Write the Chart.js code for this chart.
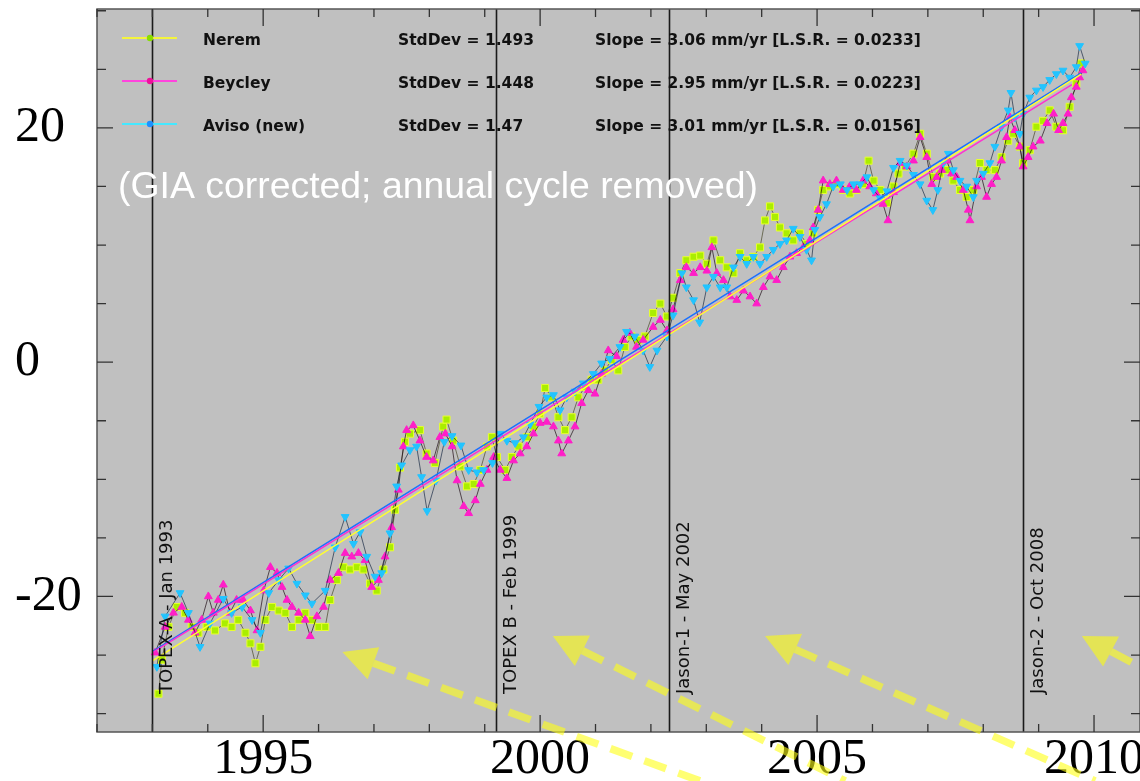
<!DOCTYPE html>
<html>
<head>
<meta charset="utf-8">
<script src="https://cdn.jsdelivr.net/npm/chart.js@4.4.1/dist/chart.umd.min.js"></script>
<style>
  html, body { margin: 0; padding: 0; background: #fff; }
  #wrap { width: 1140px; height: 781px; overflow: hidden; }
</style>
</head>
<body>
<div id="wrap"><canvas id="sea-level" width="1140" height="781"></canvas></div>
<script>
// global mean sea level (mm), GIA corrected, annual cycle removed
const neremYears = [1993.11, 1993.17, 1993.29, 1993.44, 1993.59, 1993.71, 1993.83, 1993.98, 1994.13, 1994.31, 1994.43, 1994.55, 1994.68, 1994.77, 1994.86, 1994.95, 1995.04, 1995.16, 1995.28, 1995.40, 1995.52, 1995.64, 1995.76, 1995.88, 1996.00, 1996.12, 1996.21, 1996.33, 1996.45, 1996.57, 1996.69, 1996.81, 1996.93, 1997.05, 1997.17, 1997.29, 1997.38, 1997.47, 1997.56, 1997.65, 1997.83, 1997.95, 1998.10, 1998.25, 1998.31, 1998.43, 1998.56, 1998.68, 1998.80, 1998.92, 1999.04, 1999.13, 1999.22, 1999.37, 1999.49, 1999.61, 1999.76, 1999.88, 2000.00, 2000.09, 2000.21, 2000.33, 2000.45, 2000.57, 2000.69, 2000.81, 2000.93, 2001.05, 2001.17, 2001.29, 2001.41, 2001.53, 2001.65, 2001.77, 2001.89, 2002.04, 2002.17, 2002.29, 2002.40, 2002.53, 2002.64, 2002.77, 2002.89, 2003.01, 2003.13, 2003.25, 2003.37, 2003.49, 2003.61, 2003.73, 2003.85, 2003.97, 2004.06, 2004.15, 2004.24, 2004.33, 2004.45, 2004.57, 2004.69, 2004.81, 2004.93, 2005.02, 2005.11, 2005.23, 2005.35, 2005.47, 2005.59, 2005.71, 2005.83, 2005.93, 2006.02, 2006.14, 2006.26, 2006.38, 2006.47, 2006.59, 2006.74, 2006.86, 2006.98, 2007.10, 2007.22, 2007.34, 2007.46, 2007.58, 2007.70, 2007.82, 2007.94, 2008.06, 2008.21, 2008.33, 2008.45, 2008.54, 2008.66, 2008.72, 2008.84, 2008.96, 2009.08, 2009.20, 2009.32, 2009.44, 2009.56, 2009.68, 2009.77];
const neremMm = [-28.3, -25.4, -22.6, -20.9, -21.4, -22.6, -23.1, -22.6, -22.9, -22.3, -22.6, -22.0, -23.1, -24.0, -25.7, -24.3, -22.0, -20.9, -21.2, -21.4, -22.6, -22.0, -21.4, -22.0, -22.6, -22.6, -20.3, -18.6, -17.5, -17.7, -17.5, -17.7, -18.9, -19.5, -17.7, -15.8, -12.6, -9.0, -6.8, -6.1, -5.8, -7.8, -8.6, -5.5, -4.9, -6.7, -8.9, -10.6, -10.4, -9.2, -7.2, -6.4, -8.1, -9.2, -8.1, -7.2, -6.4, -5.5, -4.4, -2.2, -3.0, -4.7, -5.8, -4.7, -3.0, -2.1, -1.5, -1.5, -0.7, 0.2, -0.7, 1.3, 2.2, 1.9, 2.2, 4.2, 5.0, 3.9, 5.5, 7.6, 8.7, 9.0, 9.1, 8.4, 10.4, 8.7, 8.1, 7.6, 9.3, 8.7, 9.0, 9.8, 12.1, 13.3, 12.4, 11.5, 11.0, 10.4, 11.0, 10.1, 11.0, 13.0, 14.7, 15.0, 15.2, 14.7, 14.4, 14.7, 15.2, 17.2, 15.5, 14.7, 13.6, 15.0, 16.1, 16.7, 17.8, 19.5, 17.8, 15.8, 16.1, 16.4, 15.5, 14.7, 14.1, 14.7, 17.0, 16.4, 16.4, 17.5, 18.9, 19.5, 18.4, 17.0, 18.1, 20.1, 20.6, 21.5, 20.1, 19.8, 21.8, 23.8, 25.5];

const beycleyYears = [1993.05, 1993.23, 1993.38, 1993.53, 1993.65, 1993.77, 1993.89, 1994.01, 1994.10, 1994.19, 1994.28, 1994.40, 1994.52, 1994.64, 1994.77, 1994.89, 1995.01, 1995.13, 1995.25, 1995.34, 1995.43, 1995.52, 1995.64, 1995.76, 1995.85, 1995.97, 1996.09, 1996.21, 1996.36, 1996.48, 1996.60, 1996.72, 1996.84, 1996.96, 1997.08, 1997.20, 1997.32, 1997.44, 1997.53, 1997.59, 1997.71, 1997.83, 1997.95, 1998.07, 1998.19, 1998.29, 1998.41, 1998.50, 1998.62, 1998.71, 1998.83, 1998.92, 1999.04, 1999.16, 1999.28, 1999.40, 1999.52, 1999.64, 1999.76, 1999.88, 2000.00, 2000.12, 2000.24, 2000.33, 2000.39, 2000.51, 2000.63, 2000.75, 2000.87, 2000.99, 2001.11, 2001.23, 2001.38, 2001.50, 2001.62, 2001.74, 2001.86, 2002.04, 2002.17, 2002.29, 2002.40, 2002.53, 2002.64, 2002.77, 2002.89, 2003.01, 2003.10, 2003.19, 2003.31, 2003.43, 2003.55, 2003.67, 2003.79, 2003.91, 2004.03, 2004.15, 2004.27, 2004.39, 2004.51, 2004.63, 2004.75, 2004.87, 2004.93, 2005.02, 2005.11, 2005.23, 2005.35, 2005.47, 2005.59, 2005.71, 2005.83, 2005.95, 2006.07, 2006.19, 2006.28, 2006.38, 2006.50, 2006.62, 2006.74, 2006.86, 2006.98, 2007.07, 2007.16, 2007.25, 2007.34, 2007.43, 2007.52, 2007.64, 2007.73, 2007.76, 2007.88, 2007.97, 2008.06, 2008.15, 2008.24, 2008.33, 2008.42, 2008.48, 2008.57, 2008.66, 2008.72, 2008.81, 2008.90, 2009.03, 2009.15, 2009.27, 2009.36, 2009.44, 2009.53, 2009.59, 2009.68, 2009.74, 2009.80];
const beycleyMm = [-24.8, -22.6, -21.4, -20.9, -22.0, -23.1, -22.0, -20.0, -21.4, -20.3, -19.0, -21.4, -20.3, -20.3, -21.2, -22.9, -19.5, -17.5, -18.0, -19.2, -20.3, -20.9, -21.4, -22.0, -23.4, -21.7, -20.9, -18.6, -18.0, -16.3, -16.6, -16.3, -16.9, -19.2, -18.6, -16.6, -14.1, -10.9, -7.2, -5.8, -5.4, -6.7, -8.1, -8.4, -6.4, -6.1, -7.2, -10.1, -12.3, -12.9, -11.8, -10.4, -9.2, -8.1, -9.2, -9.9, -8.4, -7.8, -7.2, -6.1, -5.2, -5.1, -5.5, -6.7, -7.8, -6.7, -5.5, -3.5, -2.4, -2.7, -1.0, 1.0, 0.5, 1.9, 2.5, 1.3, 1.9, 3.0, 3.6, 2.7, 4.5, 7.0, 8.1, 7.6, 8.1, 7.8, 9.8, 7.6, 7.0, 5.6, 5.3, 6.1, 5.6, 5.0, 6.4, 7.3, 7.0, 8.1, 9.0, 9.3, 9.8, 10.4, 11.5, 13.0, 15.5, 15.2, 15.5, 14.7, 15.0, 14.7, 15.5, 15.0, 14.4, 13.5, 12.1, 14.5, 17.0, 16.7, 17.2, 19.2, 17.5, 15.2, 15.8, 16.4, 17.2, 16.1, 15.8, 14.7, 13.0, 12.1, 15.0, 15.8, 14.1, 15.2, 15.8, 17.2, 19.2, 20.9, 19.8, 18.4, 16.7, 17.5, 18.4, 18.9, 20.4, 21.2, 19.8, 20.4, 21.2, 22.6, 23.5, 24.3, 24.9];

const avisoYears = [1993.08, 1993.23, 1993.50, 1993.65, 1993.86, 1994.04, 1994.28, 1994.43, 1994.62, 1994.80, 1994.95, 1995.10, 1995.28, 1995.46, 1995.61, 1995.76, 1995.88, 1996.12, 1996.30, 1996.48, 1996.63, 1996.75, 1996.87, 1997.02, 1997.14, 1997.29, 1997.41, 1997.50, 1997.65, 1997.77, 1997.86, 1997.96, 1998.12, 1998.27, 1998.41, 1998.57, 1998.71, 1998.86, 1998.98, 1999.14, 1999.28, 1999.40, 1999.55, 1999.70, 1999.82, 1999.98, 2000.12, 2000.24, 2000.36, 2000.48, 2000.63, 2000.78, 2000.96, 2001.11, 2001.26, 2001.44, 2001.56, 2001.71, 2001.86, 2001.98, 2002.11, 2002.29, 2002.40, 2002.56, 2002.64, 2002.77, 2002.88, 2003.01, 2003.13, 2003.25, 2003.37, 2003.49, 2003.61, 2003.73, 2003.85, 2003.97, 2004.09, 2004.21, 2004.33, 2004.45, 2004.57, 2004.69, 2004.81, 2004.90, 2004.96, 2005.05, 2005.17, 2005.29, 2005.42, 2005.54, 2005.66, 2005.78, 2005.90, 2006.02, 2006.14, 2006.26, 2006.38, 2006.50, 2006.62, 2006.74, 2006.86, 2006.98, 2007.09, 2007.18, 2007.28, 2007.37, 2007.46, 2007.58, 2007.70, 2007.82, 2007.88, 2008.00, 2008.12, 2008.21, 2008.33, 2008.45, 2008.50, 2008.57, 2008.66, 2008.72, 2008.84, 2008.96, 2009.08, 2009.20, 2009.32, 2009.44, 2009.56, 2009.68, 2009.74, 2009.84];
const avisoMm = [-26.0, -21.7, -19.7, -21.4, -24.3, -22.3, -20.2, -21.4, -20.9, -22.0, -23.1, -19.7, -18.6, -17.6, -18.9, -19.9, -20.6, -19.5, -15.8, -13.2, -15.5, -14.5, -16.6, -18.3, -18.0, -14.6, -10.6, -8.8, -7.5, -7.2, -9.8, -12.7, -10.1, -6.8, -6.3, -7.1, -9.2, -9.4, -9.2, -8.6, -6.1, -6.7, -6.9, -6.4, -5.3, -3.8, -3.0, -2.8, -4.1, -3.0, -2.5, -1.8, -1.0, -0.1, 0.3, 1.3, 2.6, 2.2, 1.0, -0.4, 1.0, 2.2, 4.0, 7.6, 6.4, 5.3, 3.4, 6.4, 7.3, 6.4, 6.4, 8.1, 9.0, 8.4, 9.0, 8.4, 9.0, 9.6, 10.1, 10.4, 11.4, 10.7, 9.6, 8.7, 11.3, 12.4, 13.5, 15.0, 15.2, 14.7, 15.2, 15.2, 15.8, 14.7, 14.0, 14.6, 16.6, 17.2, 16.8, 16.0, 15.2, 13.8, 13.0, 14.7, 17.0, 17.8, 16.4, 15.5, 15.0, 14.1, 15.5, 16.1, 17.0, 18.4, 20.1, 21.5, 23.0, 20.9, 19.5, 21.2, 22.6, 23.2, 23.5, 24.1, 24.6, 24.9, 24.3, 25.2, 27.0, 25.5];

// linear fits [year, mm] at start and end
const neremTrend = [[1993.0, -25.5], [2009.77, 24.6]];
const beycleyTrend = [[1993.0, -24.8], [2009.6, 23.7]];
const avisoTrend = [[1993.0, -24.7], [2009.77, 24.7]];

const seriesNames = ["Nerem", "Beycley", "Aviso (new)"];
const stdDevs = ["1.493", "1.448", "1.47"];
const slopes = ["3.06", "2.95", "3.01"];
const lsrValues = ["0.0233", "0.0223", "0.0156"];

const missionYears = [1993.0, 1999.2, 2002.33, 2008.71];
const missionLabels = ["TOPEX-A - Jan 1993", "TOPEX B - Feb 1999", "Jason-1 - May 2002", "Jason-2 - Oct 2008"];

const xTickLabels = [1995, 2000, 2005, 2010];
const yTickLabels = [-20, 0, 20];

// yellow arrows: [tipYear, tipMm, tailYear, tailMm]
const arrows = [
  [1996.43, -24.74, 2002.89, -35.75],
  [2000.23, -23.38, 2005.51, -35.75],
  [2004.06, -23.38, 2010.02, -35.75],
  [2009.78, -23.38, 2011.19, -26.9]
];

const toPoints = (xs, ys) => xs.map((x, i) => ({ x: x, y: ys[i] }));
const toLine = (t) => t.map((p) => ({ x: p[0], y: p[1] }));

const serif = '"Liberation Serif", "Times New Roman", serif';
const sans = '"DejaVu Sans", sans-serif';

const colNerem = "#aaee00";
const colBeycley = "#ff1ec8";
const colAviso = "#22c4ff";

const decorations = {
  id: "decorations",
  beforeDraw(chart) {
    const { ctx, chartArea: a } = chart;
    ctx.save();
    ctx.fillStyle = "#c0c0c0";
    ctx.fillRect(a.left, a.top, a.right - a.left, a.bottom - a.top);
    ctx.restore();
  },
  afterDatasetsDraw(chart) {
    const { ctx, chartArea: a } = chart;
    const xs = chart.scales.x;
    const ys = chart.scales.y;
    ctx.save();

    // mission lines and their labels
    missionYears.forEach((yr, i) => {
      const x = Math.round(xs.getPixelForValue(yr)) + 0.5;
      ctx.strokeStyle = "#1a1a1a";
      ctx.lineWidth = 1.6;
      ctx.beginPath();
      ctx.moveTo(x, a.top);
      ctx.lineTo(x, a.bottom);
      ctx.stroke();
      ctx.save();
      ctx.translate(x + 19, 694);
      ctx.rotate(-Math.PI / 2);
      ctx.fillStyle = "#111";
      ctx.font = "18px " + sans;
      ctx.textAlign = "left";
      ctx.textBaseline = "alphabetic";
      ctx.fillText(missionLabels[i], 0, 0);
      ctx.restore();
    });

    // frame
    ctx.strokeStyle = "#555";
    ctx.lineWidth = 1.5;
    ctx.strokeRect(a.left, a.top, a.right - a.left, a.bottom - a.top);

    // inward ticks
    ctx.strokeStyle = "#333";
    ctx.lineWidth = 1.3;
    for (let yr = 1992; yr <= 2010; yr++) {
      const x = xs.getPixelForValue(yr);
      const len = yr % 5 === 0 ? 17 : 8;
      ctx.beginPath();
      ctx.moveTo(x, a.bottom);
      ctx.lineTo(x, a.bottom - len);
      ctx.moveTo(x, a.top);
      ctx.lineTo(x, a.top + len);
      ctx.stroke();
    }
    for (let mm = -30; mm <= 30; mm += 5) {
      const y = ys.getPixelForValue(mm);
      const len = mm % 20 === 0 ? 16 : 9;
      ctx.beginPath();
      ctx.moveTo(a.left, y);
      ctx.lineTo(a.left + len, y);
      ctx.moveTo(a.right, y);
      ctx.lineTo(a.right - len, y);
      ctx.stroke();
    }
    ctx.restore();
  },
  afterDraw(chart) {
    const { ctx } = chart;
    const xs = chart.scales.x;
    const ys = chart.scales.y;
    ctx.save();

    // legend block
    const rowBase = [45, 88, 131];
    const lineCols = ["#f4f43c", "#ff44dd", "#44e8ff"];
    const dotCols = ["#88dd00", "#ee1199", "#1e90ff"];
    rowBase.forEach((b, i) => {
      const ly = b - 7;
      ctx.strokeStyle = lineCols[i];
      ctx.lineWidth = 2;
      ctx.beginPath();
      ctx.moveTo(122, ly);
      ctx.lineTo(177, ly);
      ctx.stroke();
      ctx.fillStyle = dotCols[i];
      ctx.beginPath();
      ctx.arc(150, ly, 3.2, 0, Math.PI * 2);
      ctx.fill();
      ctx.fillStyle = "#111";
      ctx.font = "bold 15.5px " + sans;
      ctx.textBaseline = "alphabetic";
      ctx.fillText(seriesNames[i], 203, b);
      ctx.fillText("StdDev = " + stdDevs[i], 398, b);
      ctx.fillText("Slope = " + slopes[i] + " mm/yr [L.S.R. = " + lsrValues[i] + "]", 595, b);
    });

    // white annotation
    ctx.fillStyle = "#ffffff";
    ctx.font = '37.4px "Liberation Sans", Arial, sans-serif';
    ctx.fillText("(GIA corrected; annual cycle removed)", 118, 198);

    // dashed yellow arrows
    arrows.forEach((ar) => {
      const x1 = xs.getPixelForValue(ar[0]);
      const y1 = ys.getPixelForValue(ar[1]);
      const x2 = xs.getPixelForValue(ar[2]);
      const y2 = ys.getPixelForValue(ar[3]);
      const len = Math.hypot(x2 - x1, y2 - y1);
      const ux = (x2 - x1) / len;
      const uy = (y2 - y1) / len;
      const headL = 33;
      const headW = 17;
      const bx = x1 + ux * headL;
      const by = y1 + uy * headL;
      ctx.strokeStyle = "rgba(255,255,20,0.6)";
      ctx.lineWidth = 7.5;
      ctx.setLineDash([23, 13]);
      ctx.beginPath();
      ctx.moveTo(bx, by);
      ctx.lineTo(x2, y2);
      ctx.stroke();
      ctx.setLineDash([]);
      ctx.fillStyle = "rgba(250,250,20,0.62)";
      ctx.beginPath();
      ctx.moveTo(x1, y1);
      ctx.lineTo(bx - uy * headW, by + ux * headW);
      ctx.lineTo(bx + uy * headW, by - ux * headW);
      ctx.closePath();
      ctx.fill();
    });
    ctx.restore();
  }
};

const ctx = document.getElementById("sea-level").getContext("2d");
const seaLevelChart = new Chart(ctx, {
  type: "scatter",
  data: {
    datasets: [
      {
        label: "Nerem trend",
        data: toLine(neremTrend),
        showLine: true,
        borderColor: "#ffff30",
        borderWidth: 1.5,
        pointRadius: 0,
        order: 0
      },
      {
        label: "Beycley trend",
        data: toLine(beycleyTrend),
        showLine: true,
        borderColor: "#ff30d0",
        borderWidth: 1.5,
        pointRadius: 0,
        order: 0
      },
      {
        label: "Aviso trend",
        data: toLine(avisoTrend),
        showLine: true,
        borderColor: "#1a70ff",
        borderWidth: 1.5,
        pointRadius: 0,
        order: 0
      },
      {
        label: "Aviso (new)",
        data: toPoints(avisoYears, avisoMm),
        showLine: true,
        borderColor: "rgba(0,20,50,0.6)",
        borderWidth: 1,
        pointStyle: "triangle",
        pointRotation: 180,
        pointRadius: 4.5,
        pointBackgroundColor: colAviso,
        pointBorderColor: colAviso,
        order: 1
      },
      {
        label: "Beycley",
        data: toPoints(beycleyYears, beycleyMm),
        showLine: true,
        borderColor: "rgba(20,0,10,0.65)",
        borderWidth: 1,
        pointStyle: "triangle",
        pointRadius: 4.5,
        pointBackgroundColor: colBeycley,
        pointBorderColor: colBeycley,
        order: 2
      },
      {
        label: "Nerem",
        data: toPoints(neremYears, neremMm),
        showLine: true,
        borderColor: "rgba(40,40,0,0.55)",
        borderWidth: 1,
        pointStyle: "rect",
        pointRadius: 5,
        pointBackgroundColor: colNerem,
        pointBorderColor: "#e8ff30",
        pointBorderWidth: 1,
        order: 3
      }
    ]
  },
  options: {
    responsive: false,
    animation: false,
    events: [],
    layout: { autoPadding: false, padding: { left: 15, top: 9, right: 0, bottom: 0 } },
    plugins: {
      legend: { display: false },
      tooltip: { enabled: false }
    },
    scales: {
      x: {
        type: "linear",
        min: 1992,
        max: 2010.83,
        grid: { display: false, drawTicks: false },
        border: { display: false },
        afterBuildTicks: (s) => { s.ticks = xTickLabels.map((v) => ({ value: v })); },
        afterFit: (s) => { s.height = 49; s.paddingLeft = 0; s.paddingRight = 0; },
        ticks: {
          autoSkip: false,
          maxRotation: 0,
          padding: -2,
          color: "#000",
          font: { family: serif, size: 50 },
          callback: (v) => String(v)
        }
      },
      y: {
        min: -31.57,
        max: 30.15,
        grid: { display: false, drawTicks: false },
        border: { display: false },
        afterBuildTicks: (s) => { s.ticks = yTickLabels.map((v) => ({ value: v })); },
        afterFit: (s) => { s.width = 82; s.paddingTop = 0; s.paddingBottom = 0; },
        ticks: {
          autoSkip: false,
          crossAlign: "far",
          color: "#000",
          font: { family: serif, size: 50 },
          callback: (v) => String(v)
        }
      }
    }
  },
  plugins: [decorations]
});
</script>
</body>
</html>
